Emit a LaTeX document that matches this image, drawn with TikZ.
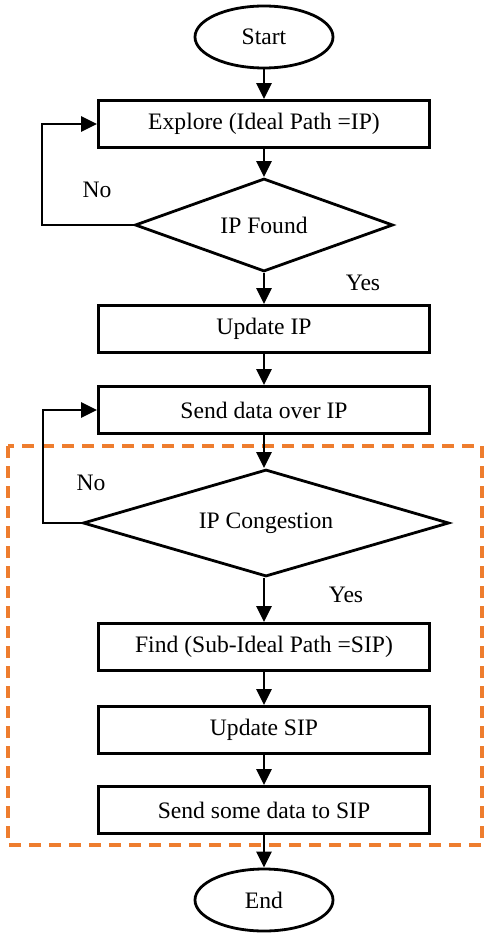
\documentclass[tikz,border=0pt]{standalone}
\usetikzlibrary{arrows.meta, shapes.geometric, backgrounds}
\usepackage{fontspec}
\setmainfont{Liberation Serif}
\definecolor{FrameOrange}{HTML}{EE7D2E}
\tikzset{
  term/.style={draw, ellipse, line width=2.8pt, minimum width=138pt,
    minimum height=62pt, inner sep=0pt},
  pbox/.style={draw, rectangle, line width=2.8pt, minimum width=331pt,
    minimum height=47pt, inner sep=0pt},
  dbox/.style={draw, diamond, line width=2.8pt, inner sep=0pt},
  flow/.style={-{Triangle[length=16pt, width=15pt]}, line width=2.8pt},
  region/.style={draw=FrameOrange, line width=4pt, dash pattern=on 12pt off 8pt},
  lbl/.style={inner sep=0pt},
}

\begin{document}
\begin{tikzpicture}[x=1pt, y=-1pt, font=\fontsize{23.6}{28}\selectfont]
    \useasboundingbox (0,0) rectangle (489,933);
    \node[term] (start) at (264,37) {Start};
    \node[pbox] (explore) at (264,124) {Explore (Ideal Path =IP)};
    \node[dbox, shape aspect=2.8, minimum width=258pt, minimum height=93pt] (found) at (264,225) {IP Found};
    \node[pbox] (upip) at (264,329) {Update IP};
    \node[pbox] (send) at (264,410) {Send data over IP};
    \node[dbox, shape aspect=3.4, minimum width=366pt, minimum height=107pt] (cong) at (266,523) {IP Congestion};
    \node[pbox] (find) at (264,647) {Find (Sub-Ideal Path =SIP)};
    \node[pbox] (upsip) at (264,730) {Update SIP};
    \node[pbox] (somesip) at (264,810) {Send some data to SIP};
    \node[term] (end) at (264,900) {End};
    \node[lbl] (no1) at (97,190) {No};
    \node[lbl] (yes1) at (363,283) {Yes};
    \node[lbl] (no2) at (91,483) {No};
    \node[lbl] (yes2) at (346,595) {Yes};
    \coordinate (back1) at (42,225);
    \coordinate (back2) at (43,523);
    \draw[flow] (start) -- (explore); \draw[flow] (explore) -- (found);
    \draw[flow] (found) -- (upip); \draw[flow] (upip) -- (send);
    \draw[flow] (send.south) -- (send.south |- cong.north); \draw[flow] (cong.south -| find) -- (find);
    \draw[flow] (find) -- (upsip); \draw[flow] (upsip) -- (somesip);
    \draw[flow] (somesip) -- (end);
    \draw[flow] (found.west) -- (back1) |- (explore.west);
    \draw[flow] (cong.west) -- (back2) |- (send.west);
    \begin{scope}[on background layer]
      \draw[region] (8,446) rectangle (482,845);
    \end{scope}
  \end{tikzpicture}
\end{document}
